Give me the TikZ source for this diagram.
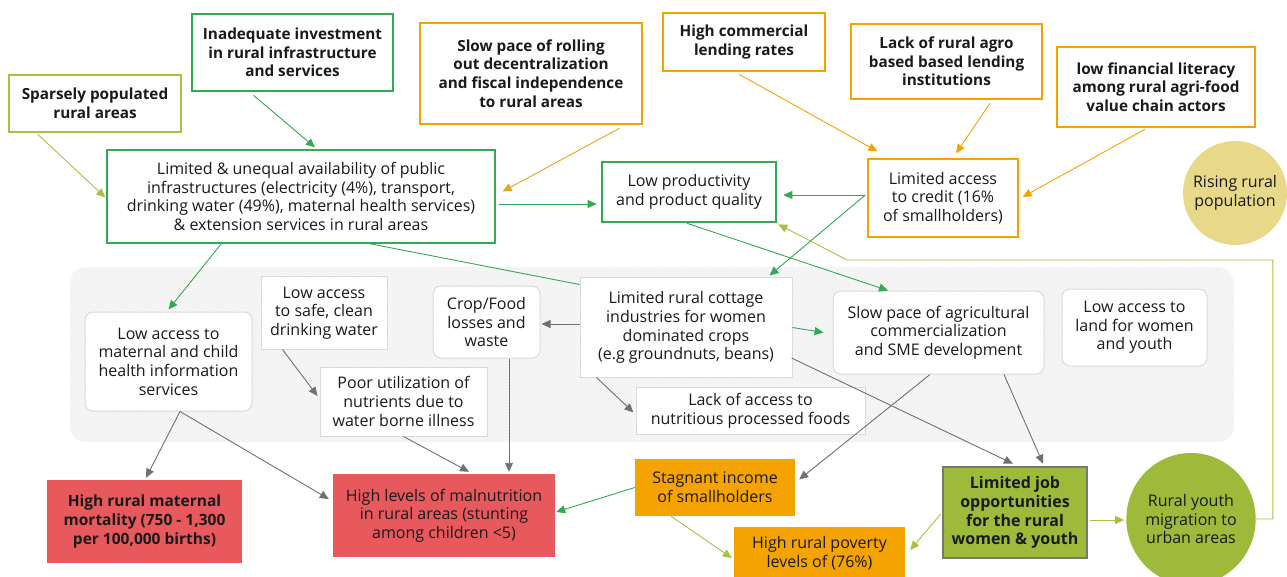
\documentclass[tikz,border=0pt]{standalone}
\usepackage{fontspec}
\setmainfont{Open Sans}
\usetikzlibrary{arrows.meta,calc,patterns,shapes.geometric}

\definecolor{cGreen}{HTML}{34A853}
\definecolor{cOlive}{HTML}{A6C246}
\definecolor{cOrange}{HTML}{F5A300}
\definecolor{cGold}{HTML}{E3A41F}
\definecolor{cRed}{HTML}{E8595D}
\definecolor{cKhaki}{HTML}{E8D98A}
\definecolor{cLeaf}{HTML}{9DBA3A}
\definecolor{cArrowGray}{HTML}{707070}
\definecolor{cJobEdge}{HTML}{777777}
\definecolor{cBoxEdge}{HTML}{DADADA}
\definecolor{cHatchBg}{HTML}{EFEFEF}
\definecolor{cText}{HTML}{1A1A1A}

\tikzset{
  box/.style={align=center, inner sep=0pt, text=cText,
    font=\fontsize{16}{18.7}\selectfont},
  boldtext/.style={font=\fontsize{15.3}{18.7}\selectfont\bfseries},
  causebox/.style={box, boldtext, draw, fill=white, line width=2.6pt},
  thinbox/.style={box, draw, fill=white, line width=1.3pt},
  innerbox/.style={box, draw=cBoxEdge, fill=white, line width=1pt},
  innerround/.style={innerbox, rounded corners=8pt},
  effectbox/.style={box},
  arr/.style={line width=0.9pt, -{Triangle[length=9pt,width=8pt]}},
  link/.style={line width=0.9pt},
}

\begin{document}
\begin{tikzpicture}[x=1pt,y=-1pt]
\useasboundingbox (0,0) rectangle (1287,577);

% hatched panel behind the inner causes
\path[fill=cHatchBg, rounded corners=16pt] (70,267) rectangle (1234,442);
\path[pattern=north east lines, pattern color=white, rounded corners=16pt] (70,267) rectangle (1234,442);

% root causes (top row)
\node[causebox, draw=cOlive, minimum width=172pt, minimum height=57pt] (spars) at (95,103.5)
  {Sparsely populated\\rural areas};
\node[causebox, draw=cGreen, minimum width=201pt, minimum height=77pt] (inadeq) at (292.5,52.5)
  {Inadequate investment\\in rural infrastructure\\and services};
\node[causebox, draw=cOrange, minimum width=222pt, minimum height=101pt] (slowroll) at (531,73.5)
  {Slow pace of rolling\\out decentralization\\and fiscal independence\\to rural areas};
\node[causebox, draw=cOrange, minimum width=162pt, minimum height=58pt] (highcomm) at (744,42)
  {High commercial\\lending rates};
\node[causebox, draw=cOrange, minimum width=191pt, minimum height=75pt] (lackagro) at (946.5,61.5)
  {Lack of rural agro\\based based lending\\institutions};
\node[causebox, draw=cOrange, minimum width=198pt, minimum height=80pt] (lowfin) at (1156,87)
  {low financial literacy\\among rural agri-food\\value chain actors};

% second row
\node[thinbox, draw=cGreen, minimum width=388pt, minimum height=93pt] (infra) at (301,196.5)
  {Limited \& unequal availability of public\\infrastructures (electricity (4\%), transport,\\drinking water (49\%), maternal health services)\\\& extension services in rural areas};
\node[thinbox, draw=cGreen, line width=2.6pt, minimum width=174pt, minimum height=60pt] (lowprod) at (689,192)
  {Low productivity\\and product quality};
\node[thinbox, draw=cOrange, minimum width=150pt, minimum height=78pt] (credit) at (943,198)
  {Limited access\\to credit (16\%\\of smallholders)};
\node[box, circle, fill=cKhaki, minimum size=104pt] (rising) at (1235,193)
  {Rising rural\\population};

% inner causes
\node[innerround, minimum width=167pt, minimum height=99pt] (matinfo) at (168.5,361.5)
  {Low access to\\maternal and child\\health information\\services};
\node[innerbox, minimum width=126pt, minimum height=72pt] (water) at (324,313)
  {Low access\\to safe, clean\\drinking water};
\node[innerbox, minimum width=167pt, minimum height=69pt] (poorutil) at (403.5,401.5)
  {Poor utilization of\\nutrients due to\\water borne illness};
\node[innerround, minimum width=107pt, minimum height=72pt] (crop) at (486.5,322)
  {Crop/Food\\losses and\\waste};
\node[innerbox, minimum width=212pt, minimum height=99pt] (cottage) at (686,327.5)
  {Limited rural cottage\\industries for women\\dominated crops\\(e.g groundnuts, beans)};
\node[innerround, minimum width=211pt, minimum height=83pt] (slowagri) at (938.5,332.5)
  {Slow pace of agricultural\\commercialization\\and SME development};
\node[innerround, minimum width=145pt, minimum height=77pt] (land) at (1134.5,327.5)
  {Low access to\\land for women\\and youth};
\node[innerbox, minimum width=229pt, minimum height=47pt] (nutri) at (750.5,410.5)
  {Lack of access to\\nutritious processed foods};

% effects
\node[effectbox, fill=cRed, minimum width=195pt, minimum height=83pt,
  font=\fontsize{15.5}{18.7}\selectfont\bfseries] (matmort) at (144.5,521.5)
  {High rural maternal\\mortality (750 - 1,300\\per 100,000 births)};
\node[effectbox, fill=cRed, minimum width=222pt, minimum height=83pt] (malnut) at (444,515.5)
  {High levels of malnutrition\\in rural areas (stunting\\among children <5)};
\node[effectbox, fill=cOrange, minimum width=160pt, minimum height=57pt] (stagnant) at (715,487.5)
  {Stagnant income\\of smallholders};
\node[effectbox, fill=cOrange, minimum width=171pt, minimum height=52pt] (poverty) at (819.5,553)
  {High rural poverty\\levels of (76\%)};
\node[effectbox, fill=cLeaf, draw=cJobEdge, line width=2.6pt, minimum width=144pt, minimum height=91pt,
  font=\fontsize{16}{18.7}\selectfont\bfseries] (job) at (1015,512.5)
  {Limited job\\opportunities\\for the rural\\women \& youth};
\node[box, ellipse, fill=cLeaf, minimum width=129pt, minimum height=132pt] (youth) at (1191,519)
  {Rural youth\\migration to\\urban areas};

% connectors into the second row
\draw[arr, cOlive] ($(spars.south west)+(30,1)$) -- ($(infra.west)+(-1,1)$);
\draw[arr, cGreen] ($(inadeq.south)+(-39,3)$) -- ($(infra.north)+(14,-2)$);
\draw[arr, cGold] ($(slowroll.south east)+(-24,3)$) -- ($(infra.east)+(7,-5)$);
\draw[arr, cOrange] ($(highcomm.south)+(-5,2)$) -- ($(credit.north west)+(10,-7)$);
\draw[arr, cOrange] ($(lackagro.south)+(43.5,3)$) -- ($(credit.north)+(13,-5)$);
\draw[arr, cOrange] ($(lowfin.south)+(-11,1)$) -- ($(credit.east)+(4,-1)$);
\draw[arr, cGreen] ($(infra.east)+(3,7.5)$) -- ($(lowprod.west)+(-4,12)$);
\draw[arr, cGreen] ($(credit.west)+(-2,-3)$) -- ($(lowprod.east)+(6,3)$);

% connectors into the panel
\draw[arr, cGreen] ($(credit.west)+(-2,-3)$) -- ($(cottage.north east)+(-23,-2)$);
\draw[arr, cGreen] ($(lowprod.south)+(-2,0)$) -- ($(slowagri.north)+(-50.5,0)$);
\draw[arr, cGreen] ($(infra.south west)+(115,0)$) -- ($(matinfo.north)+(0,-2)$);
\draw[link, cGreen] ($(infra.south west)+(263,0)$) -- ($(cottage.north west)+(0,7)$);

% feedback from migration to productivity
\coordinate (bend) at (847,260);
\draw[arr, cOlive] (youth.east) -- ++(17,0) |- (bend) -- ($(lowprod.south east)+(1,1)$);

% connectors inside the panel
\draw[arr, cArrowGray] ($(cottage.west)+(0,-3.5)$) -- ($(crop.east)+(1,2)$);
\draw[arr, cGreen] (cottage.east) -- ($(slowagri.west)+(-9,0)$);
\draw[arr, cArrowGray] ($(cottage.south west)+(17,0)$) -- ($(nutri.west)+(-2,2)$);
\draw[arr, cArrowGray] ($(water.south west)+(22,0)$) -- ($(poorutil.west)+(-2,-5.5)$);

% connectors to the effects
\draw[arr, cArrowGray] ($(cottage.east)+(-1,30.5)$) -- ($(job.north)+(-2,-2)$);
\draw[arr, cArrowGray] ($(slowagri.south)+(65.5,0)$) -- ($(job.north)+(28,-2)$);
\draw[arr, cArrowGray] ($(slowagri.south)+(-8.5,0)$) -- ($(stagnant.east)+(4,-8)$);
\draw[arr, cArrowGray] ($(matinfo.south)+(11.5,0)$) -- ($(matmort.north)+(1.5,-2)$);
\draw[arr, cArrowGray] ($(matinfo.south)+(11.5,0)$) -- ($(malnut.west)+(-4,-16.5)$);
\draw[arr, cArrowGray] (poorutil.south) -- ($(malnut.north)+(25,-2)$);
\draw[arr, cArrowGray] ($(crop.south)+(22.5,0)$) -- ($(malnut.north)+(65,-2)$);
\draw[arr, cGreen] (stagnant.west) -- ($(malnut.east)+(1,-3.5)$);
\draw[arr, cOlive] ($(stagnant.south)+(-44,0)$) -- ($(poverty.west)+(-2,5)$);
\draw[arr, cOlive] ($(job.west)+(-1,1.5)$) -- ($(poverty.east)+(5,-3)$);
\draw[arr, cOlive] ($(job.east)+(2,7.5)$) -- ($(youth.west)+(-2,1)$);
\end{tikzpicture}
\end{document}
